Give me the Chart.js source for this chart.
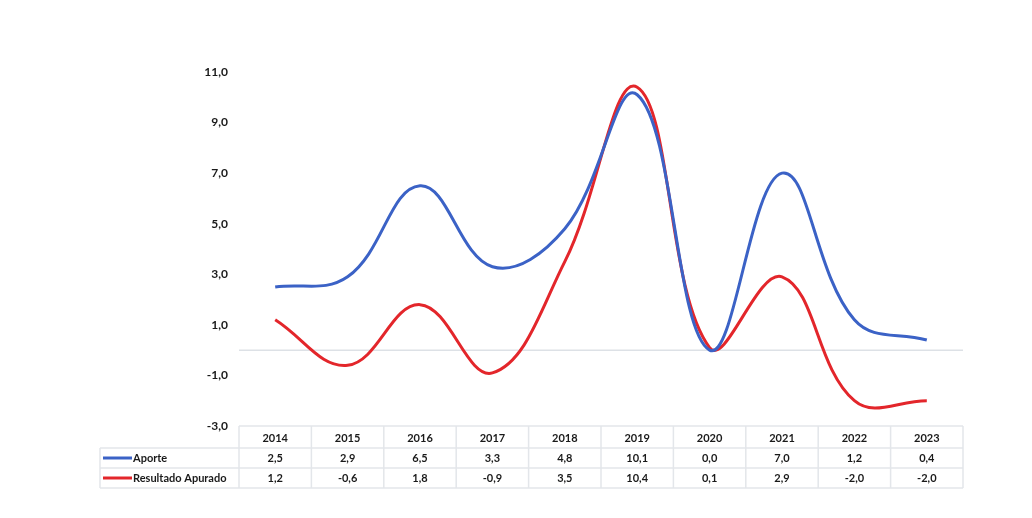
<!DOCTYPE html>
<html>
<head>
<meta charset="utf-8">
<script src="https://cdn.jsdelivr.net/npm/chart.js@4"></script>
<style>
  html, body { margin: 0; padding: 0; background: #fff; }
  #wrap { width: 1032px; height: 518px; }
</style>
</head>
<body>
<div id="wrap"><canvas id="chart"></canvas></div>
<script>
const years = ['2014', '2015', '2016', '2017', '2018', '2019', '2020', '2021', '2022', '2023'];
const aporte = [2.5, 2.9, 6.5, 3.3, 4.8, 10.1, 0.0, 7.0, 1.2, 0.4];
const resultado = [1.2, -0.6, 1.8, -0.9, 3.5, 10.4, 0.1, 2.9, -2.0, -2.0];
const yTicks = [-3, -1, 1, 3, 5, 7, 9, 11];

const blue = '#3b62c6';
const red = '#e3262b';
const fmt = v => v.toFixed(1).replace('.', ',');

// zero line behind the lines, data table under the plot
const tablePlugin = {
    id: 'tablePlugin',
    beforeDatasetsDraw(chart) {
        const ctx = chart.ctx;
        const y = chart.scales.y;
        const area = chart.chartArea;
        ctx.save();
        ctx.strokeStyle = '#dde1e6';
        ctx.lineWidth = 1.5;
        ctx.beginPath();
        ctx.moveTo(area.left, y.getPixelForValue(0));
        ctx.lineTo(area.right, y.getPixelForValue(0));
        ctx.stroke();
        ctx.restore();
    },
    afterDatasetsDraw(chart) {
        const ctx = chart.ctx;
        const x = chart.scales.x;
        const area = chart.chartArea;
        const colW = x.width / years.length;

        ctx.save();
        const top = area.bottom;
        const rows = [top, top + 22, top + 42, top + 62];
        const legendLeft = 100;

        ctx.strokeStyle = '#e3e6ea';
        ctx.lineWidth = 1.5;
        ctx.beginPath();
        ctx.moveTo(area.left, rows[0]); ctx.lineTo(area.right, rows[0]);
        for (let r = 1; r < rows.length; r++) {
            ctx.moveTo(legendLeft, rows[r]); ctx.lineTo(area.right, rows[r]);
        }
        for (let i = 0; i <= years.length; i++) {
            const cx = area.left + i * colW;
            ctx.moveTo(cx, rows[0]); ctx.lineTo(cx, rows[3]);
        }
        ctx.moveTo(legendLeft, rows[1]); ctx.lineTo(legendLeft, rows[3]);
        ctx.stroke();

        ctx.fillStyle = '#1a1a1a';
        ctx.font = 'bold 11px Lato';
        ctx.textAlign = 'center';
        ctx.textBaseline = 'middle';
        years.forEach((yr, i) => {
            const cx = x.getPixelForValue(i);
            ctx.fillText(yr, cx, (rows[0] + rows[1]) / 2 + 1);
            ctx.fillText(fmt(aporte[i]), cx, (rows[1] + rows[2]) / 2);
            ctx.fillText(fmt(resultado[i]), cx, (rows[2] + rows[3]) / 2);
        });

        // legend keys
        const series = [[chart.data.datasets[0], rows[1], rows[2]], [chart.data.datasets[1], rows[2], rows[3]]];
        ctx.textAlign = 'left';
        series.forEach(([ds, a, b]) => {
            const my = (a + b) / 2;
            ctx.strokeStyle = ds.borderColor;
            ctx.lineWidth = 3;
            ctx.beginPath();
            ctx.moveTo(103, my); ctx.lineTo(132, my);
            ctx.stroke();
            ctx.fillStyle = '#1a1a1a';
            ctx.fillText(ds.label, 133, my);
        });
        ctx.restore();
    }
};

new Chart(document.getElementById('chart'), {
    type: 'line',
    data: {
        labels: years,
        datasets: [
            {
                label: 'Aporte',
                data: aporte,
                borderColor: blue,
                borderWidth: 3,
                pointRadius: 0,
                tension: 0.4,
                fill: false
            },
            {
                label: 'Resultado Apurado',
                data: resultado,
                borderColor: red,
                borderWidth: 3,
                pointRadius: 0,
                tension: 0.4,
                fill: false
            }
        ]
    },
    options: {
        responsive: true,
        maintainAspectRatio: false,
        animation: false,
        layout: { padding: { top: 72, bottom: 92, right: 69, left: 0 } },
        plugins: {
            legend: { display: false },
            tooltip: { enabled: false }
        },
        scales: {
            x: {
                display: false,
                offset: true
            },
            y: {
                min: -3,
                max: 11,
                afterBuildTicks: scale => { scale.ticks = yTicks.map(v => ({ value: v })); },
                afterFit: scale => { scale.width = 239; },
                grid: { display: false, drawTicks: false },
                border: { display: false },
                ticks: {
                    padding: 11,
                    color: '#1a1a1a',
                    font: { family: 'Lato', weight: 'bold', size: 12 },
                    callback: v => fmt(v)
                }
            }
        }
    },
    plugins: [tablePlugin]
});
</script>
</body>
</html>
